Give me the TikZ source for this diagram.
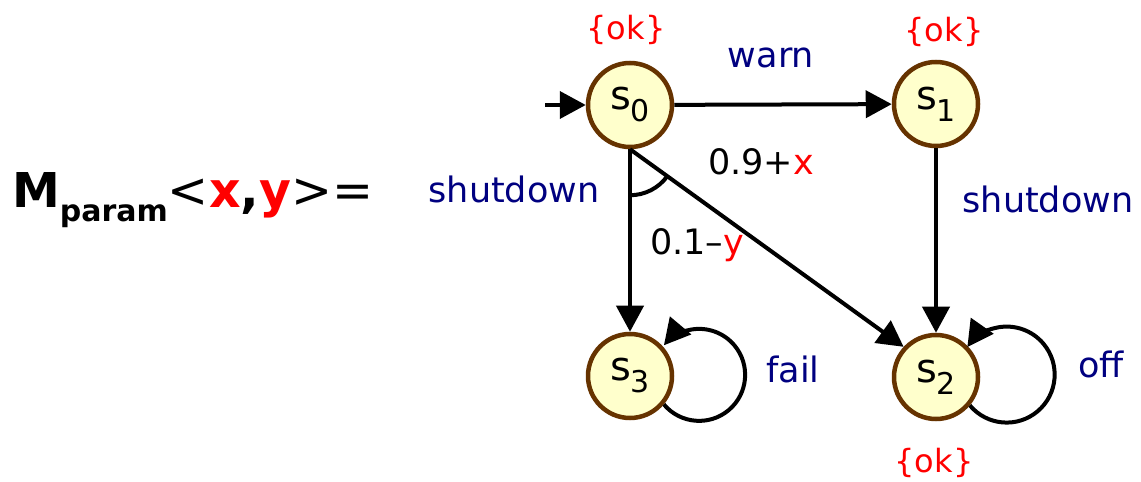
\documentclass[tikz,border=0pt]{standalone}
\usepackage{fontspec}
\setmainfont{DejaVu Sans}
\usetikzlibrary{arrows.meta}
\definecolor{stfill}{HTML}{FFFFCC}
\definecolor{stdraw}{HTML}{663300}
\definecolor{lbl}{HTML}{000080}
\definecolor{prop}{HTML}{FF0000}
\newcommand\stname[1]{s\raisebox{-12pt}{\fontsize{30}{32}\selectfont #1}}
\begin{document}
\begin{tikzpicture}[x=1pt,y=1pt,
  state/.style={circle,draw=stdraw,fill=stfill,line width=4.5pt,minimum size=84pt,inner sep=0pt,font=\fontsize{40}{44}\selectfont},
  edge/.style={line width=4pt,-{Triangle[length=26pt,width=27pt]}},
  plain/.style={line width=4pt},
  act/.style={text=lbl,font=\fontsize{35}{40}\selectfont,anchor=base,inner sep=0pt},
  ap/.style={text=prop,font=\fontsize{32}{36}\selectfont,anchor=base,inner sep=0pt},
  prob/.style={font=\fontsize{35}{40}\selectfont,anchor=base,inner sep=0pt}]
\useasboundingbox (0,0) rectangle (1141,482);
% title
\node[anchor=base west,inner sep=0pt] (title) at (12,274)
  {\bfseries\fontsize{48}{56}\selectfont M\raisebox{-14pt}{\fontsize{30}{36}\selectfont param}\mdseries\fontsize{49}{56}\selectfont <\textcolor{prop}{\bfseries x}{\bfseries ,}\textcolor{prop}{\bfseries y}>=};
% states
\node[state] (s0) at (630,377) {\stname{0}};
\node[state] (s1) at (936,378) {\stname{1}};
\node[state] (s3) at (630,106) {\stname{3}};
\node[state] (s2) at (936,105) {\stname{2}};
\coordinate (init) at (545,377);
\coordinate (b) at (s0.south);
% edges
\draw[edge] (init) -- (s0);
\draw[edge] (s0) -- (s1);
\draw[edge] (s1) -- (s2);
\draw[edge] (b) -- (s3);
\draw[edge] (b) -- (s2.137);
\draw[plain] (b) ++(-90:46) arc[start angle=-90,end angle=-36,radius=46];
\draw[edge] (s3.-40) arc[start angle=-140,end angle=140,radius=46];
\draw[edge] (s2.-40) arc[start angle=-140,end angle=145,radius=48];
% labels
\node[ap] (ok0) at (626,442) {\{ok\}};
\node[ap] (ok1) at (944,440) {\{ok\}};
\node[ap] (ok2) at (934,9) {\{ok\}};
\node[act] (warn) at (771,414) {warn};
\node[act] (sd0) at (514,279) {shutdown};
\node[act] (sd1) at (1048,269) {shutdown};
\node[prob] (p09) at (761,307) {0.9+\textcolor{prop}{x}};
\node[prob] (p01) at (697,227) {0.1\textendash\textcolor{prop}{y}};
\node[act] (fail) at (793,99) {fail};
\node[act] (off) at (1101,104) {off};
\end{tikzpicture}
\end{document}
